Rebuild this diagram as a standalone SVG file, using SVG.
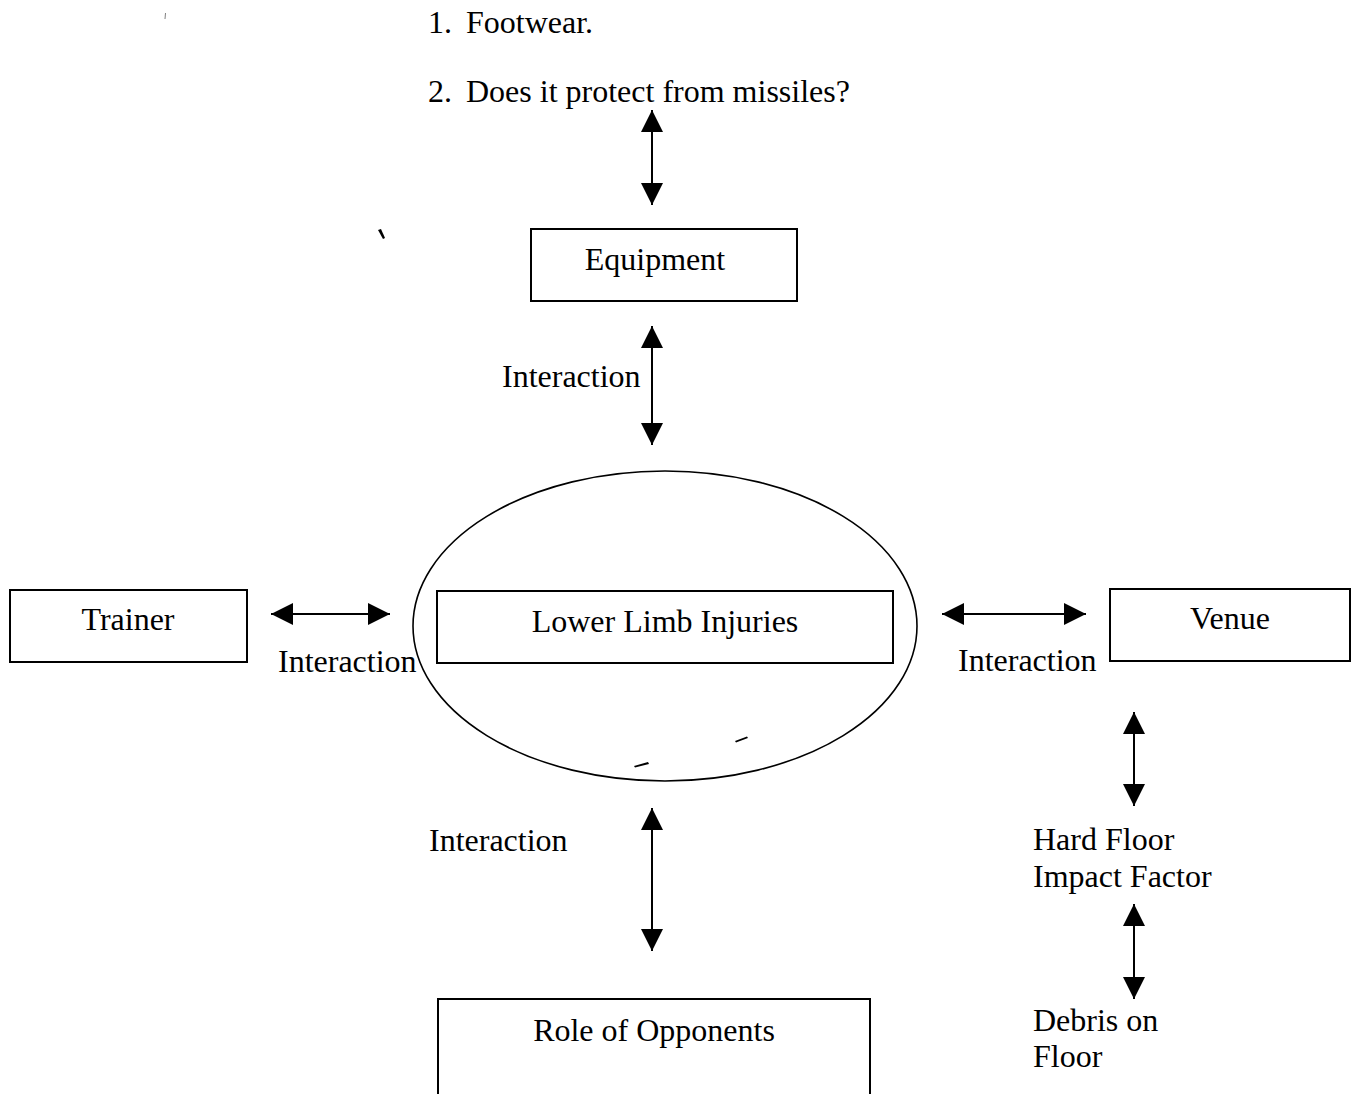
<svg xmlns="http://www.w3.org/2000/svg" width="1361" height="1094" viewBox="0 0 1361 1094">
  <style>
    .box { fill: #fff; stroke: #000; stroke-width: 2; }
    .oval { fill: none; stroke: #000; stroke-width: 1.6; }
    .lbl { font-family: "Liberation Serif", "Times New Roman", serif; font-size: 32px; fill: #000; }
    .mid { text-anchor: middle; }
    .link { stroke: #000; stroke-width: 2; fill: none; marker-start: url(#tip); marker-end: url(#tip); }
    .speck { fill: #000; stroke: none; }
  </style>
  <defs>
    <marker id="tip" markerUnits="userSpaceOnUse" markerWidth="22" markerHeight="22" refX="22" refY="11" orient="auto-start-reverse">
      <path d="M0,0 L22,11 L0,22 Z" fill="#000"/>
    </marker>
  </defs>
  <rect width="1361" height="1094" fill="#fff"/>

  <!-- footwear notes above the equipment box -->
  <g id="notes">
    <text class="lbl" y="33"><tspan x="428">1.</tspan><tspan x="466">Footwear.</tspan></text>
    <text class="lbl" y="102"><tspan x="428">2.</tspan><tspan x="466">Does it protect from missiles?</tspan></text>
  </g>

  <g id="equipment">
    <rect class="box" x="531" y="229" width="266" height="72"/>
    <text class="lbl mid" x="655" y="270">Equipment</text>
  </g>

  <g id="injuries">
    <ellipse class="oval" cx="665" cy="626" rx="252" ry="155"/>
    <rect class="box" x="437" y="591" width="456" height="72"/>
    <text class="lbl mid" x="665" y="632">Lower Limb Injuries</text>
  </g>

  <g id="trainer">
    <rect class="box" x="10" y="590" width="237" height="72"/>
    <text class="lbl mid" x="128" y="630">Trainer</text>
  </g>

  <g id="venue">
    <rect class="box" x="1110" y="589" width="240" height="72"/>
    <text class="lbl mid" x="1230" y="629">Venue</text>
  </g>

  <g id="hard-floor">
    <text class="lbl" x="1033" y="850">Hard Floor</text>
    <text class="lbl" x="1033" y="887">Impact Factor</text>
  </g>

  <g id="debris">
    <text class="lbl" x="1033" y="1031">Debris on</text>
    <text class="lbl" x="1033" y="1067">Floor</text>
  </g>

  <g id="opponents">
    <rect class="box" x="438" y="999" width="432" height="110"/>
    <text class="lbl mid" x="654" y="1041">Role of Opponents</text>
  </g>

  <!-- two-headed connectors and their labels -->
  <g id="connectors">
    <line class="link" x1="652" y1="110" x2="652" y2="205"/>
    <line class="link" x1="652" y1="326" x2="652" y2="445"/>
    <line class="link" x1="271" y1="614" x2="390" y2="614"/>
    <line class="link" x1="942" y1="614" x2="1086" y2="614"/>
    <line class="link" x1="652" y1="808" x2="652" y2="951"/>
    <line class="link" x1="1134" y1="712" x2="1134" y2="806"/>
    <line class="link" x1="1134" y1="904" x2="1134" y2="999"/>
    <text class="lbl" x="502" y="387">Interaction</text>
    <text class="lbl" x="278" y="672">Interaction</text>
    <text class="lbl" x="958" y="671">Interaction</text>
    <text class="lbl" x="429" y="851">Interaction</text>
  </g>

  <!-- small stray marks -->
  <g id="marks">
    <path class="speck" d="M378,230 L381,229 L385,238 L383,239 Z"/>
    <path class="speck" d="M165,13 L166,13 L165.5,19 L164.5,19 Z" opacity="0.5"/>
    <path class="speck" d="M634,766 L648,762 L649,764 L635,767.5 Z"/>
    <path class="speck" d="M735,741 L747,736.5 L748,738 L736,742.5 Z"/>
  </g>
</svg>
